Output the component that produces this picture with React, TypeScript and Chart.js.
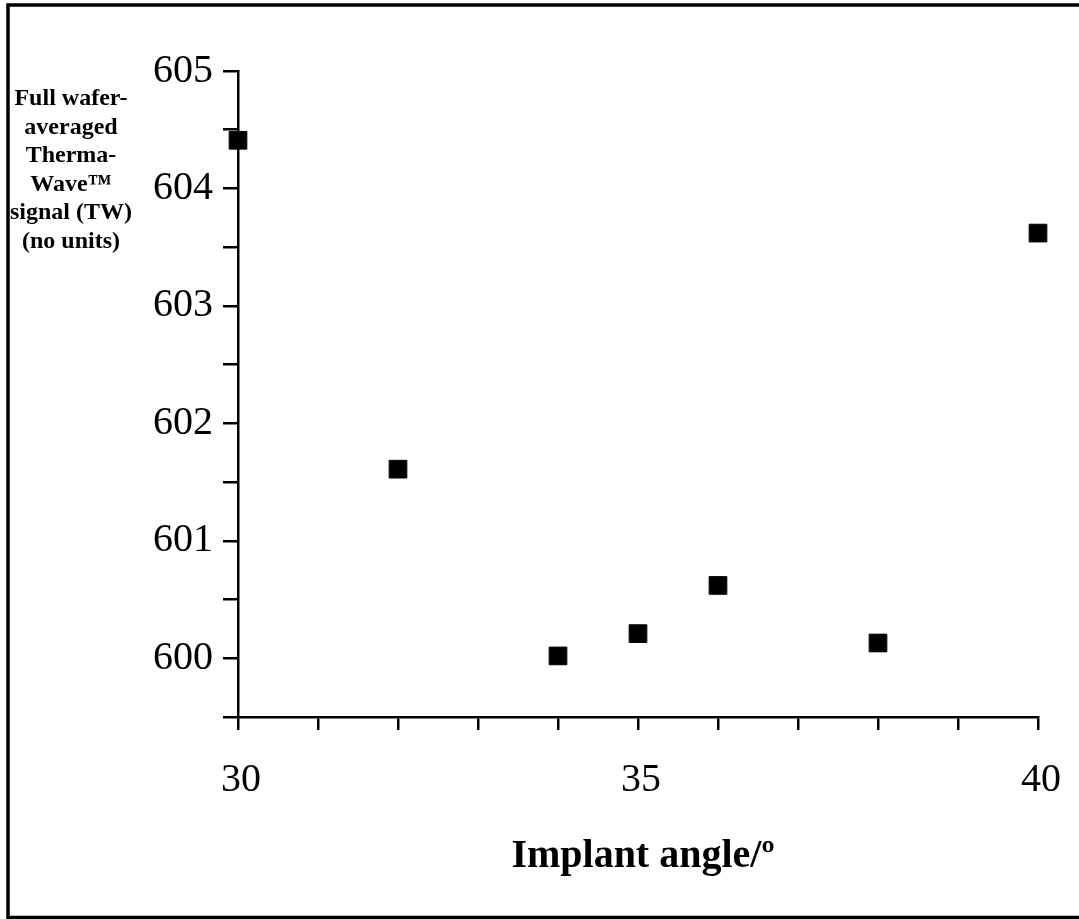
import React, { useEffect, useRef } from "react";
import { Chart, registerables } from "chart.js";

Chart.register(...registerables);

const angles = [30, 32, 34, 35, 36, 38, 40];
const twSignal = [604.41, 601.61, 600.02, 600.21, 600.62, 600.13, 603.62];
const xTickLabels = [30, 35, 40];
const yTickLabels = [600, 601, 602, 603, 604, 605];
const yTitleLines = ["Full wafer-", "averaged", "Therma-", "Wave\u2122", "signal (TW)", "(no units)"];
const xTitle = "Implant angle/\u00BA";

const FONT = "'Liberation Serif', 'Times New Roman', serif";

const decorPlugin = {
  id: "decor",
  afterDraw(chart: any) {
    const ctx = chart.ctx as CanvasRenderingContext2D;
    ctx.save();
    // frame
    ctx.strokeStyle = "#000";
    ctx.lineWidth = 3.5;
    ctx.beginPath();
    ctx.moveTo(1090, 5);
    ctx.lineTo(8, 5);
    ctx.lineTo(8, 917.5);
    ctx.lineTo(1090, 917.5);
    ctx.stroke();
    // y title
    ctx.fillStyle = "#000";
    ctx.font = `bold 24px ${FONT}`;
    ctx.textAlign = "center";
    ctx.textBaseline = "alphabetic";
    yTitleLines.forEach((line, i) => {
      ctx.fillText(line, 71, 105 + i * 28.6);
    });
    // x title
    ctx.font = `bold 40px ${FONT}`;
    ctx.fillText(xTitle, 643, 867);
    ctx.restore();
  },
};

export default function App() {
  const canvasRef = useRef<HTMLCanvasElement | null>(null);

  useEffect(() => {
    if (!canvasRef.current) return;
    const chart = new Chart(canvasRef.current, {
      type: "scatter",
      data: {
        datasets: [
          {
            data: angles.map((a, i) => ({ x: a, y: twSignal[i] })),
            pointStyle: "rect",
            pointRadius: 12.5,
            pointHoverRadius: 12.5,
            backgroundColor: "#000",
            borderColor: "#000",
            borderWidth: 1,
            clip: false,
          },
        ],
      },
      options: {
        animation: false,
        responsive: true,
        maintainAspectRatio: false,
        layout: { autoPadding: false, padding: { left: 0, top: 71, right: 41, bottom: 0 } },
        plugins: {
          legend: { display: false },
          tooltip: { enabled: false },
          title: { display: false },
        },
        scales: {
          x: {
            type: "linear",
            min: 30,
            max: 40,
            afterFit: (scale: any) => {
              scale.height = 202;
              scale.paddingLeft = 0;
              scale.paddingRight = 0;
            },
            border: { display: true, color: "#000", width: 2.5 },
            grid: {
              drawOnChartArea: false,
              drawTicks: true,
              tickLength: 13,
              color: "#000",
              lineWidth: 2.5,
            },
            ticks: {
              stepSize: 1,
              autoSkip: false,
              maxRotation: 0,
              padding: 26,
              labelOffset: 3,
              color: "#000",
              font: { family: FONT, size: 40 },
              callback: (v: any) => (xTickLabels.includes(Number(v)) ? String(v) : ""),
            },
          },
          y: {
            type: "linear",
            min: 599.5,
            max: 605,
            afterFit: (scale: any) => {
              scale.width = 238;
              scale.paddingTop = 0;
              scale.paddingBottom = 0;
            },
            border: { display: true, color: "#000", width: 2.5 },
            grid: {
              drawOnChartArea: false,
              drawTicks: true,
              tickLength: 15,
              color: "#000",
              lineWidth: 2.5,
            },
            ticks: {
              stepSize: 0.5,
              autoSkip: false,
              padding: 10,
              color: "#000",
              font: { family: FONT, size: 40 },
              callback: (v: any) => {
                const n = Number(v);
                const r = Math.round(n);
                return Math.abs(n - r) < 1e-6 && yTickLabels.includes(r) ? String(r) : "";
              },
            },
          },
        },
      },
      plugins: [decorPlugin],
    });
    return () => chart.destroy();
  }, []);

  return (
    <div style={{ position: "fixed", left: 0, top: 0, width: 1079, height: 919, background: "#fff" }}>
      <canvas ref={canvasRef} style={{ display: "block" }} />
    </div>
  );
}
